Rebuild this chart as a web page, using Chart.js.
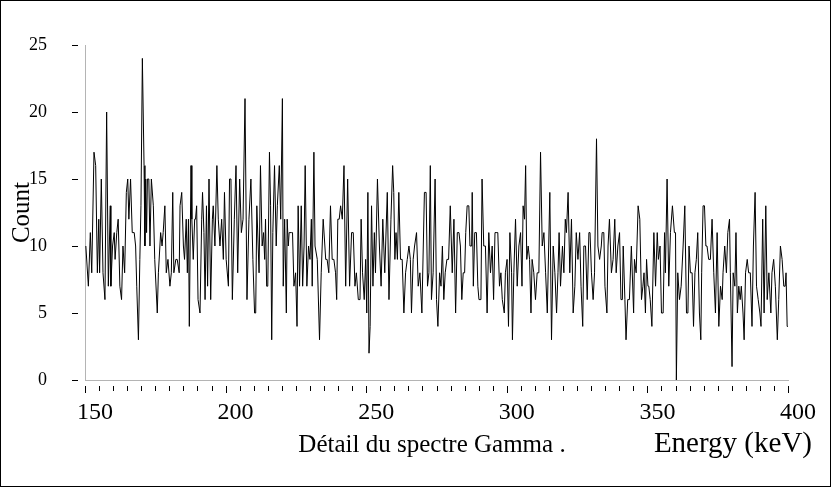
<!DOCTYPE html>
<html>
<head>
<meta charset="utf-8">
<script src="https://cdn.jsdelivr.net/npm/chart.js@4.4.1/dist/chart.umd.min.js"></script>
<style>
  html, body { margin: 0; padding: 0; background: #fff; }
  #frame { width: 829px; height: 485px; border: 1px solid #000; position: relative; }
  canvas { display: block; }
</style>
</head>
<body>
<div id="frame"><canvas id="c" width="829" height="485"></canvas></div>
<script>
// ---- data (energy in keV, count) ----
const energies = [
  150.3,151.2,151.9,152.4,153.2,153.8,154.4,154.9,155.2,155.8,156.4,157.1,157.7,158.3,159.0,159.2,159.8,160.4,160.7,161.3,161.8,162.4,163.0,163.5,164.1,164.7,165.2,165.6,166.2,166.8,167.5,168.0,168.4,169.0,169.5,169.9,170.4,171.0,171.3,171.6,171.9,
  172.2,172.7,173.1,173.6,174.3,174.8,175.7,176.1,176.9,177.4,177.8,178.4,178.9,179.5,180.2,180.7,181.2,181.6,182.3,182.8,183.5,183.8,184.4,185.0,185.4,186.0,186.4,186.8,187.1,187.7,188.0,188.5,189.0,189.3,189.7,190.2,190.9,191.5,191.8,192.3,192.7,193.2,193.6,194.1,194.7,
  195.3,195.6,196.2,196.9,197.4,198.0,198.6,199.2,199.6,200.2,201.0,201.4,201.9,202.4,203.1,203.7,204.3,205.0,205.6,206.2,206.9,207.6,208.3,209.0,209.7,210.3,210.7,211.1,211.9,212.4,213.0,213.5,213.9,214.2,214.6,215.0,215.6,216.0,216.4,216.8,217.4,218.0,
  218.4,219.1,219.6,220.2,220.5,221.0,221.6,221.9,222.3,222.6,223.4,223.8,224.3,224.9,225.4,225.8,226.3,226.9,227.4,227.9,228.3,228.9,229.5,230.0,230.5,230.8,231.4,231.8,232.6,233.4,234.0,234.7,235.6,236.1,236.7,237.3,237.9,238.5,239.1,239.5,239.9,240.4,240.9,
  241.5,242.1,242.7,243.4,244.1,244.8,245.4,246.0,246.5,247.2,247.8,248.2,248.7,249.3,249.8,250.2,250.6,251.0,251.4,251.9,252.4,252.9,253.3,254.0,254.7,255.3,255.9,256.6,257.5,258.1,258.8,259.4,259.8,260.2,260.6,261.1,261.6,262.2,262.8,263.4,264.0,264.6,
  265.2,265.7,266.1,266.7,267.2,267.9,268.5,269.1,269.8,270.3,270.7,271.3,271.8,272.3,272.8,273.2,273.8,274.5,275.0,275.5,276.1,276.6,277.1,277.6,278.1,278.7,279.3,279.9,280.6,281.2,281.8,282.4,283.0,283.5,284.0,284.5,285.0,285.4,285.9,286.5,286.9,287.5,
  287.7,288.1,288.6,289.2,289.7,290.1,290.8,291.2,291.8,292.4,293.0,293.6,294.2,294.8,295.3,295.8,296.2,296.8,297.4,297.9,298.4,299.1,299.5,300.1,300.6,301.1,301.7,302.0,302.5,303.1,303.7,304.3,304.9,305.4,305.8,306.3,306.7,307.1,307.6,308.1,308.6,309.0,309.6,310.2,
  310.8,311.4,312.0,312.6,313.2,313.8,314.4,315.3,315.9,316.5,317.1,317.7,318.2,318.6,319.1,319.8,320.3,320.8,321.2,321.8,322.4,323.0,323.6,324.2,324.7,325.3,325.9,326.4,327.0,327.4,328.0,328.6,329.2,329.6,330.1,330.7,331.2,331.9,332.4,333.0,333.6,
  333.9,334.5,334.9,335.6,336.0,336.5,337.2,337.8,338.4,338.9,339.5,340.1,340.6,341.1,341.4,342.0,342.4,343.0,343.6,344.3,345.1,345.4,346.0,346.7,347.3,347.9,348.4,348.8,349.3,349.7,350.2,350.5,351.0,351.6,352.3,352.9,353.5,353.9,354.5,355.0,355.6,356.1,356.4,357.0,
  357.6,358.2,358.9,359.6,360.0,360.3,360.8,361.4,362.0,362.7,363.3,363.9,364.4,364.8,365.3,365.9,366.4,366.9,367.4,367.9,368.5,369.0,369.3,369.8,370.3,370.8,371.2,371.8,372.4,373.0,373.6,374.2,374.8,375.4,376.0,376.6,376.9,377.5,378.1,378.6,379.2,379.5,
  380.1,380.5,381.1,381.5,382.0,382.5,383.0,383.4,384.0,384.4,384.9,385.5,386.0,386.6,387.2,387.7,388.3,388.8,389.4,390.0,390.4,391.0,391.5,392.1,392.6,393.2,393.9,394.3,394.9,395.5,396.2,396.7,397.3,397.9,398.5,399.0,399.3,399.7,400.0
];
const counts = [
  10,7,11,8,17,16,8,12,8,15,8,6,20,7,13,7,10,11,9,11,12,7,6,10,8,14,15,12,15,11,11,10,7,3,9,13,24,16,10,15,11,
  15,15,10,15,13,9,5,8,11,10,11,13,8,9,7,8,14,8,9,9,8,13,14,10,9,12,8,12,4,16,12,9,12,12,13,6,5,12,14,11,6,13,7,15,6,
  12,13,10,16,12,10,12,9,14,9,7,15,15,6,12,16,8,15,11,12,21,6,12,15,9,5,5,13,8,16,10,11,9,12,7,7,17,13,3,11,16,10,
  13,16,12,21,7,12,5,12,10,11,11,11,7,8,4,13,7,13,7,10,16,7,10,9,12,7,17,10,9,3,8,12,9,9,8,13,9,9,8,6,12,12,13,
  12,16,7,15,7,11,11,7,8,6,6,12,8,6,9,5,14,2,4,13,7,11,8,15,10,7,12,8,14,6,12,16,14,9,11,9,14,9,9,5,8,9,
  10,9,5,9,10,11,7,8,5,10,14,14,7,8,16,6,8,15,6,4,8,7,10,6,8,9,9,13,8,12,5,11,11,10,6,8,8,11,13,13,10,10,
  14,7,11,11,7,6,6,15,10,10,5,11,8,10,6,11,11,11,7,8,6,5,8,9,4,11,8,3,8,12,7,10,11,7,13,12,16,9,10,9,5,9,8,6,
  8,8,17,10,11,8,5,14,3,10,8,5,8,11,7,10,8,12,11,14,8,12,5,7,11,9,11,7,4,10,10,6,11,11,8,6,8,18,10,9,10,
  11,11,7,5,10,12,8,9,12,8,10,11,6,6,10,6,3,6,6,10,5,9,8,13,12,6,7,8,5,9,7,7,6,4,11,7,11,9,10,5,5,11,8,15,
  7,11,13,11,11,0,8,6,7,10,13,5,5,10,8,8,4,8,9,11,5,3,8,13,13,10,10,9,9,12,8,5,11,4,7,6,8,10,8,11,12,8,
  1,8,7,11,5,7,6,7,5,3,8,9,8,8,4,10,14,7,6,5,4,12,5,13,6,8,5,8,9,7,3,6,10,9,7,7,8,4,4
];
const yTickValues = [0, 5, 10, 15, 20, 25];
const xLabelValues = [150, 200, 250, 300, 350, 400];

const SERIF = '"Liberation Serif", "DejaVu Serif", serif';

const decor = {
  id: 'decor',
  afterDraw(chart) {
    const { ctx, chartArea, scales: { x, y } } = chart;
    ctx.save();
    ctx.strokeStyle = '#000';
    ctx.lineWidth = 1;
    y.ticks.forEach(t => {
      const py = Math.round(y.getPixelForValue(t.value)) + 0.5;
      ctx.beginPath();
      ctx.moveTo(chartArea.left - 13, py);
      ctx.lineTo(chartArea.left - 7, py);
      ctx.stroke();
    });
    x.ticks.forEach(t => {
      const px = Math.round(x.getPixelForValue(t.value)) + 0.5;
      const major = xLabelValues.includes(t.value);
      ctx.beginPath();
      ctx.moveTo(px, chartArea.bottom + 6);
      ctx.lineTo(px, chartArea.bottom + (major ? 13 : 11));
      ctx.stroke();
    });
    ctx.fillStyle = '#000';
    ctx.textBaseline = 'alphabetic';
    ctx.font = '25px ' + SERIF;
    ctx.textAlign = 'center';
    ctx.fillText('Détail du spectre Gamma .', 431, 451);
    ctx.font = '29px ' + SERIF;
    ctx.textAlign = 'right';
    ctx.fillText('Energy (keV)', 811, 451);
    ctx.restore();
  }
};

new Chart(document.getElementById('c'), {
  type: 'line',
  data: {
    datasets: [{
      data: energies.map((e, i) => ({ x: e, y: counts[i] })),
      borderColor: '#000',
      borderWidth: 1,
      pointRadius: 0,
      tension: 0,
      fill: false
    }]
  },
  options: {
    responsive: false,
    animation: false,
    devicePixelRatio: 1,
    layout: { padding: { top: 44, right: 42, bottom: 0, left: 0 } },
    plugins: { legend: { display: false }, tooltip: { enabled: false }, title: { display: false } },
    scales: {
      x: {
        type: 'linear',
        min: 150, max: 400,
        afterFit: s => { s.height = 106; s.paddingLeft = 0; s.paddingRight = 0; },
        border: { display: true, color: '#b4b4b4', width: 1 },
        grid: { display: true, drawOnChartArea: false, drawTicks: false },
        ticks: {
          stepSize: 5,
          autoSkip: false,
          maxRotation: 0,
          padding: 18,
          labelOffset: 10,
          color: '#000',
          font: { family: SERIF, size: 24 },
          callback: v => xLabelValues.includes(v) ? String(v) : ''
        }
      },
      y: {
        min: 0, max: 25,
        afterFit: s => { s.width = 84; s.paddingTop = 0; s.paddingBottom = 0; },
        border: { display: true, color: '#b4b4b4', width: 1 },
        grid: { display: true, drawOnChartArea: false, drawTicks: false },
        ticks: {
          stepSize: 5,
          padding: 38,
          color: '#000',
          font: { family: SERIF, size: 18 },
          callback: v => yTickValues.includes(v) ? String(v) : ''
        },
        title: {
          display: true,
          text: 'Count',
          color: '#000',
          font: { family: SERIF, size: 25 },
          padding: { top: 6, bottom: 0 }
        }
      }
    }
  },
  plugins: [decor]
});
</script>
</body>
</html>
